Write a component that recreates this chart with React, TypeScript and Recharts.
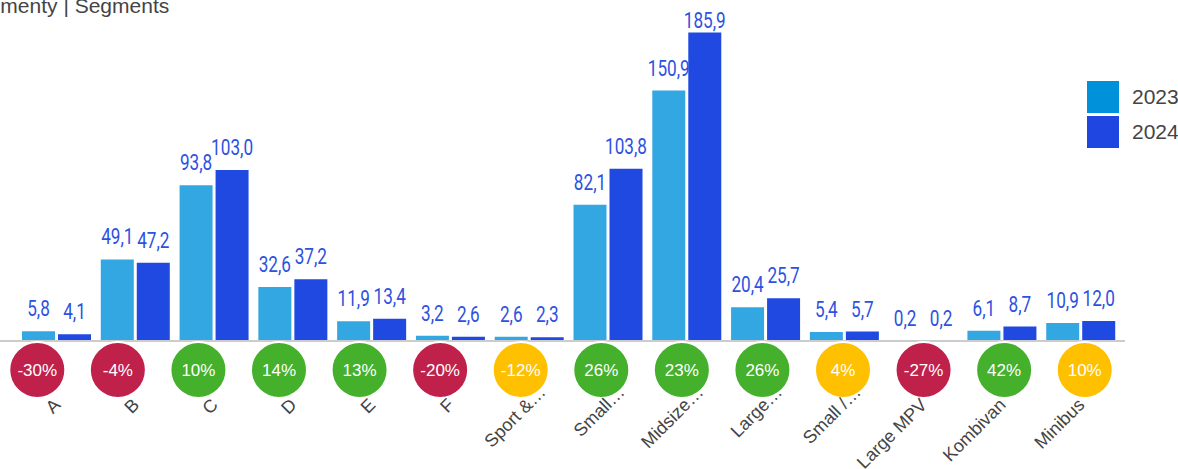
import { Bar, ComposedChart, LabelList, Scatter, XAxis, YAxis } from "recharts";

const categories = ["A", "B", "C", "D", "E", "F", "Sport &…", "Small…", "Midsize…", "Large…", "Small /…", "Large MPV", "Kombivan", "Minibus"];
const values2023 = [5.8, 49.1, 93.8, 32.6, 11.9, 3.2, 2.6, 82.1, 150.9, 20.4, 5.4, 0.2, 6.1, 10.9];
const values2024 = [4.1, 47.2, 103.0, 37.2, 13.4, 2.6, 2.3, 103.8, 185.9, 25.7, 5.7, 0.2, 8.7, 12.0];
const changes = [-30, -4, 10, 14, 13, -20, -12, 26, 23, 26, 4, -27, 42, 10];
const changeStatus = ["down", "down", "up", "up", "up", "down", "flat", "up", "up", "up", "flat", "down", "up", "flat"];

const statusColors: Record<string, string> = {
	down: "#BF214B",
	up: "#44B02B",
	flat: "#FFC000",
};

const data = categories.map((name, i) => ({
	name,
	y2023: values2023[i],
	y2024: values2024[i],
	change: changes[i],
	status: changeStatus[i],
	base: 0,
}));

const labelFont = "Roboto, sans-serif";
const textFont = "'Liberation Sans', Arial, sans-serif";

const fmt = (v: number) => v.toFixed(1).replace(".", ",");

// condensed look: no narrow font installed, so squeeze Roboto horizontally
const ValueLabel = (props: any) => {
	const { x, y, width, value } = props;
	return (
		<text
			transform={`translate(${x + width / 2},${Math.max(y - 15, 28)}) scale(0.78,1)`}
			textAnchor="middle"
			fontSize={22}
			fontFamily={labelFont}
			fill="#2D52DF"
		>
			{fmt(value)}
		</text>
	);
};

// truncated names: the ellipsis runs on past the tick, like the original
const CategoryTick = (props: any) => {
	const { x, y, payload } = props;
	const name: string = payload.value;
	const cut = name.endsWith("…");
	const main = cut ? name.slice(0, -1) : name;
	return (
		<g transform={`translate(${x + 5},${y + 65}) rotate(-45)`}>
			<text textAnchor="end" fontSize={18} fontFamily={textFont} fill="#444">
				{main}
			</text>
			{cut && (
				<text textAnchor="start" fontSize={18} fontFamily={textFont} fill="#444">
					…
				</text>
			)}
		</g>
	);
};

const ChangeBadge = (props: any) => {
	const { cx, cy, payload } = props;
	return (
		<g>
			<circle cx={cx} cy={cy + 29} r={28} fill={statusColors[payload.status]} stroke="#fff" strokeWidth={2} />
			<text
				x={cx}
				y={cy + 35}
				textAnchor="middle"
				fontSize={17}
				fontFamily={textFont}
				fill="#fff"
			>
				{payload.change}%
			</text>
		</g>
	);
};

const legendItems = [
	{ label: "2023", color: "#0091DB" },
	{ label: "2024", color: "#2046E2" },
];

export default function App() {
	return (
		<div
			style={{
				position: "absolute",
				left: 0,
				top: 0,
				width: 1178,
				height: 469,
				overflow: "hidden",
				background: "#fff",
				fontFamily: textFont,
			}}
		>
			<div
				style={{
					position: "absolute",
					left: -37,
					top: -5,
					fontSize: 21,
					lineHeight: "21px",
					color: "#444",
					whiteSpace: "nowrap",
				}}
			>
				Segmenty | Segments
			</div>
			<ComposedChart
				width={1178}
				height={469}
				data={data}
				margin={{ top: 9, right: 53, bottom: 8, left: -3 }}
				barCategoryGap={5}
				barGap={3}
			>
				<YAxis hide domain={[0, 200]} />
				<XAxis
					dataKey="name"
					padding={{ left: 20, right: 5 }}
					height={120}
					interval={0}
					tickLine={false}
					tickSize={0}
					tickMargin={0}
					axisLine={{ stroke: "#ccc", strokeWidth: 2 }}
					tick={<CategoryTick />}
				/>
				<XAxis xAxisId="c" dataKey="name" hide />
				<Bar dataKey="y2023" fill="#0091DB" fillOpacity={0.8} isAnimationActive={false}>
					<LabelList dataKey="y2023" content={<ValueLabel />} />
				</Bar>
				<Bar dataKey="y2024" fill="#2049E2" isAnimationActive={false}>
					<LabelList dataKey="y2024" content={<ValueLabel />} />
				</Bar>
				<Scatter xAxisId="c" dataKey="base" shape={<ChangeBadge />} isAnimationActive={false} />
			</ComposedChart>
			<div style={{ position: "absolute", left: 1087, top: 81 }}>
				{legendItems.map((item) => (
					<div
						key={item.label}
						style={{ display: "flex", alignItems: "center", height: 32, marginBottom: 3 }}
					>
						<div style={{ width: 32, height: 32, background: item.color }} />
						<span style={{ marginLeft: 13, fontSize: 21, color: "#444" }}>{item.label}</span>
					</div>
				))}
			</div>
		</div>
	);
}
